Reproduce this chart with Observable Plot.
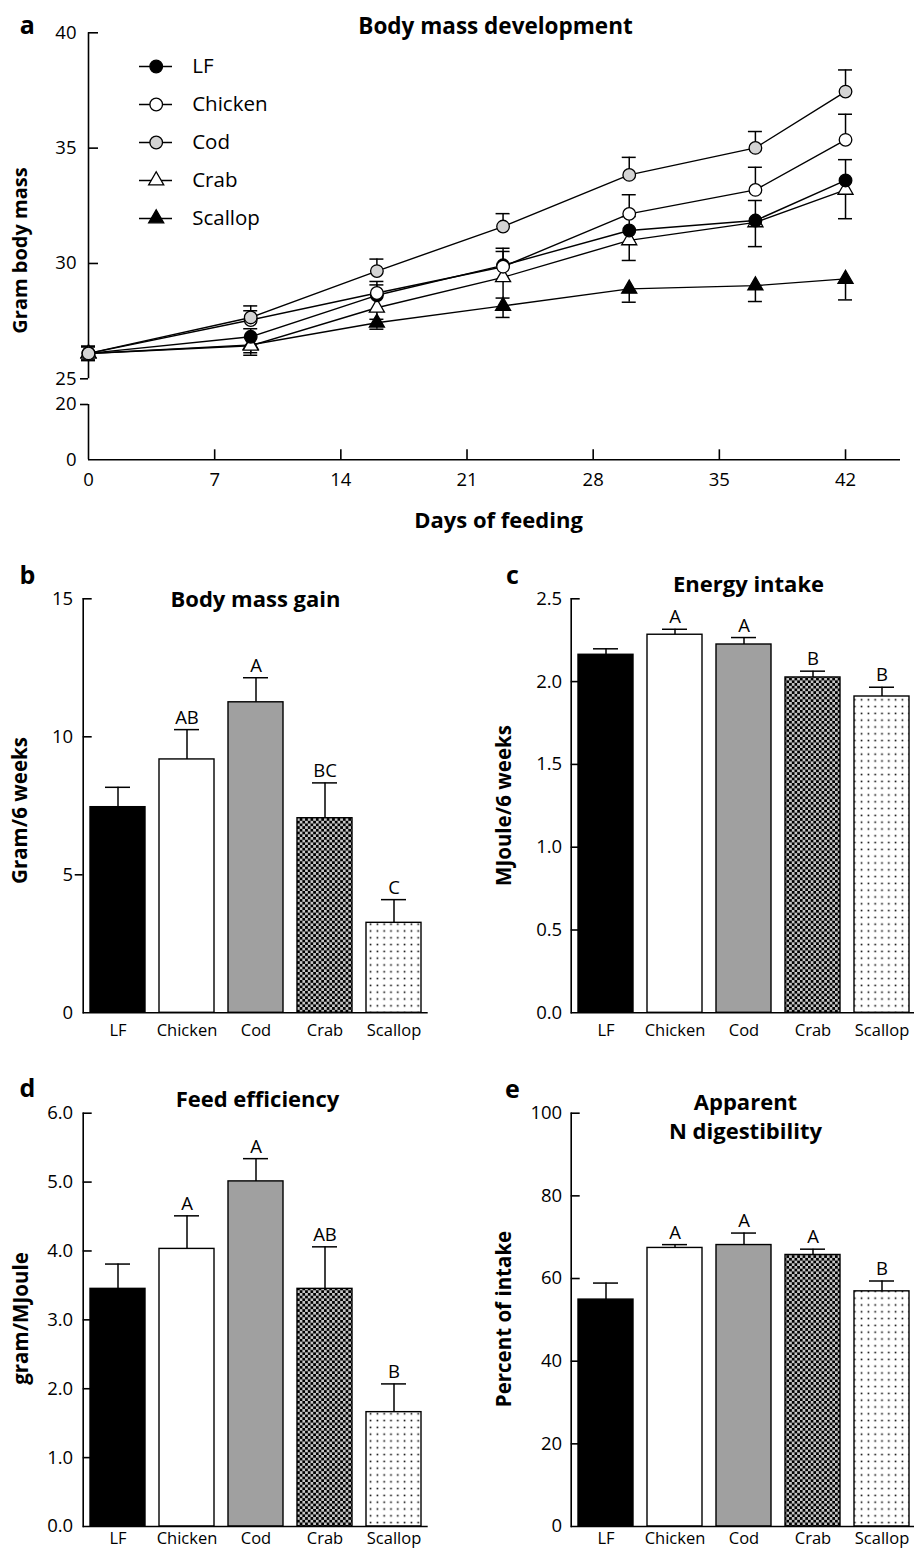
<!DOCTYPE html>
<html><head><meta charset="utf-8">
<script src="https://cdn.jsdelivr.net/npm/d3@7"></script>
<script src="https://cdn.jsdelivr.net/npm/@observablehq/plot@0.6"></script>
<style>
body{margin:0;background:#fff;}
#fig{position:relative;width:914px;height:1550px;overflow:hidden;background:#fff;color:#000;font-family:'Open Sans',sans-serif;}
</style></head><body>
<svg width="0" height="0" style="position:absolute">
<defs>
<pattern id="checker" patternUnits="userSpaceOnUse" width="5.4" height="5.4">
<rect width="5.4" height="5.4" fill="#c6c6c6"/>
<rect width="2.7" height="2.7" fill="#000"/>
<rect x="2.7" y="2.7" width="2.7" height="2.7" fill="#000"/>
</pattern>
<pattern id="dots" patternUnits="userSpaceOnUse" width="6.8" height="6.8">
<rect width="6.8" height="6.8" fill="#fff"/>
<rect x="2.6" y="2.6" width="1.6" height="1.6" fill="#000"/>
</pattern>
</defs></svg>
<div id="fig"></div>
<script>
// ---------- data ----------
const days = [0, 9, 16, 23, 30, 37, 42];
const groups = ["LF", "Chicken", "Cod", "Crab", "Scallop"];
const massLF      = [26.1, 26.82, 28.62, 29.92, 31.43, 31.86, 33.60];
const massChicken = [26.1, 27.55, 28.72, 29.86, 32.15, 33.19, 35.36];
const massCod     = [26.1, 27.66, 29.67, 31.60, 33.84, 35.01, 37.45];
const massCrab    = [26.1, 26.43, 28.08, 29.40, 31.00, 31.78, 33.19];
const massScallop = [26.1, 26.47, 27.43, 28.16, 28.90, 29.04, 29.33];
const semLF      = [0.30, 0.35, 0.45, 0.60, 0.60, 0.87, 0.90];
const semChicken = [0.30, 0.40, 0.50, 0.80, 0.83, 0.98, 1.11];
const semCod     = [0.30, 0.50, 0.52, 0.56, 0.76, 0.71, 0.94];
const semCrab    = [0.30, 0.30, 0.50, 0.90, 0.87, 1.05, 1.25];
const semScallop = [0.30, 0.45, 0.28, 0.50, 0.58, 0.69, 0.91];
const massTicks = [0, 20, 25, 30, 35, 40];
const massUpperDomain = [25, 40];
const massLowerDomain = [0, 20];
const dayTicks = [0, 7, 14, 21, 28, 35, 42];

const gain = [7.45, 9.18, 11.25, 7.05, 3.26];
const gainSem = [0.72, 1.08, 0.89, 1.28, 0.84];
const gainLetters = ["", "AB", "A", "BC", "C"];
const gainTicks = [0, 5, 10, 15];

const energy = [2.162, 2.283, 2.224, 2.025, 1.910];
const energySem = [0.036, 0.033, 0.042, 0.038, 0.056];
const energyLetters = ["", "A", "A", "B", "B"];
const energyTicks = [0, 0.5, 1.0, 1.5, 2.0, 2.5];

const efficiency = [3.45, 4.03, 5.01, 3.45, 1.66];
const efficiencySem = [0.36, 0.48, 0.33, 0.61, 0.41];
const efficiencyLetters = ["", "A", "A", "AB", "B"];
const efficiencyTicks = [0, 1, 2, 3, 4, 5, 6];

const digest = [54.9, 67.4, 68.1, 65.7, 56.9];
const digestSem = [4.0, 0.8, 2.9, 1.4, 2.5];
const digestLetters = ["", "A", "A", "A", "B"];
const digestTicks = [0, 20, 40, 60, 80, 100];

// ---------- styles ----------
const FONT = "'Open Sans', sans-serif";
const TICK_FS = 18.5;
const barFill = {LF: "#000", Chicken: "#fff", Cod: "#a0a0a0", Crab: "url(#checker)", Scallop: "url(#dots)"};
const seriesStyle = {
  LF:      {symbol: "circle",   fill: "#000",    r: 6.3, dir: 1},
  Chicken: {symbol: "circle",   fill: "#fff",    r: 6.3, dir: 1},
  Cod:     {symbol: "circle",   fill: "#d4d4d4", r: 6.3, dir: 1},
  Crab:    {symbol: "triangle", fill: "#fff",    r: 5.6, dir: -1},
  Scallop: {symbol: "triangle", fill: "#000",    r: 5.6, dir: -1}
};
const massData = {LF: [massLF, semLF], Chicken: [massChicken, semChicken], Cod: [massCod, semCod], Crab: [massCrab, semCrab], Scallop: [massScallop, semScallop]};

const fig = document.getElementById("fig");
function place(svg, left, top) {
  svg.style.position = "absolute";
  svg.style.left = left + "px";
  svg.style.top = top + "px";
  fig.appendChild(svg);
}
// text placed at svg pixel position (px, py)
function tx(str, px, py, m, o) {
  return Plot.text([str], {frameAnchor: "top-left", dx: px - m.l, dy: py - m.t, text: d => d, textAnchor: "middle", lineAnchor: "middle", ...o});
}
const AX = 1.6;
const baseStyle = {fontFamily: FONT, background: "transparent", overflow: "visible"};

// ---------- panel a (broken y axis: upper and lower parts) ----------
const W_A = 914, xMax = 45.05;
{
  // upper part: 25 - 40
  const H = 380;
  const m = {l: 88, r: 14, t: 32.3, b: H - 378.3};
  const innerW = W_A - m.l - m.r;
  const xA = d3.scaleLinear([0, xMax], [m.l, W_A - m.r]);
  const yA = d3.scaleLinear(massUpperDomain, [378.3, 32.3]);
  const capHalf = xA.invert(m.l + 7);
  const inDom = v => v >= massUpperDomain[0] && v <= massUpperDomain[1];
  const marks = [];
  marks.push(Plot.ruleX([massUpperDomain], {x: 0, y1: d => d[0], y2: d => d[1], strokeWidth: AX}));
  marks.push(Plot.ruleY(massTicks.filter(v => inDom(v) && v > massUpperDomain[0]), {insetRight: innerW - 10, strokeWidth: AX}));
  marks.push(Plot.ruleY([massUpperDomain[0]], {insetLeft: -8, insetRight: innerW, strokeWidth: AX}));
  marks.push(Plot.text(massTicks.filter(inDom), {x: 0, y: d => d, dx: -12, textAnchor: "end", fontSize: TICK_FS}));
  const rowsOf = g => days.map((d, i) => ({day: d, m: massData[g][0][i], e: massData[g][1][i]}));
  groups.forEach(g => marks.push(Plot.line(rowsOf(g), {x: "day", y: "m", stroke: "#000", strokeWidth: 1.4})));
  groups.forEach(g => {
    const dir = seriesStyle[g].dir;
    const ends = [];
    rowsOf(g).forEach(r => {
      ends.push({day: r.day, m: r.m, y2: r.m + dir * r.e});
      if (r.day === 0) ends.push({day: r.day, m: r.m, y2: r.m - dir * r.e});
    });
    marks.push(Plot.ruleX(ends, {x: "day", y1: "m", y2: "y2", strokeWidth: 1.5}));
    marks.push(Plot.ruleY(ends, {y: "y2", x1: d => d.day - capHalf, x2: d => d.day + capHalf, strokeWidth: 1.5}));
  });
  ["Scallop", "Crab", "LF", "Chicken", "Cod"].forEach(g => {
    const s = seriesStyle[g];
    marks.push(Plot.dot(rowsOf(g), {x: "day", y: "m", symbol: s.symbol, r: s.r, fill: s.fill, stroke: "#000", strokeWidth: 1.3}));
  });
  // legend
  groups.forEach((g, i) => {
    const s = seriesStyle[g];
    const yv = yA.invert(66 + i * 38);
    marks.push(Plot.ruleY([yv], {x1: xA.invert(139), x2: xA.invert(172), strokeWidth: 1.4}));
    marks.push(Plot.dot([yv], {x: xA.invert(155.7), y: d => d, symbol: s.symbol, r: s.r, fill: s.fill, stroke: "#000", strokeWidth: 1.3}));
    marks.push(Plot.text([g], {x: xA.invert(191.7), y: yv, text: d => d, textAnchor: "start", fontSize: 20.5}));
  });
  marks.push(tx("a", 26.7, 33, m, {fontSize: 25, fontWeight: "bold", lineAnchor: "bottom"}));
  marks.push(tx("Body mass development", 495, 33, m, {fontSize: 22.5, fontWeight: "bold", lineAnchor: "bottom"}));
  marks.push(tx("Gram body mass", 20, 250, m, {fontSize: 20, fontWeight: "bold", rotate: -90}));
  const svg = Plot.plot({
    width: W_A, height: H, marginLeft: m.l, marginRight: m.r, marginTop: m.t, marginBottom: m.b,
    style: baseStyle,
    x: {domain: [0, xMax], axis: null},
    y: {domain: massUpperDomain, axis: null},
    marks
  });
  place(svg, 0, 0);
}
{
  // lower part: 0 - 20, with x axis
  const top = 380, H = 160;
  const m = {l: 88, r: 14, t: 404 - top, b: H - (459.3 - top)};
  const innerW = W_A - m.l - m.r, innerH = H - m.t - m.b;
  const inDom = v => v >= massLowerDomain[0] && v <= massLowerDomain[1];
  const marks = [];
  marks.push(Plot.ruleX([massLowerDomain], {x: 0, y1: d => d[0], y2: d => d[1], strokeWidth: AX}));
  marks.push(Plot.ruleY([0], {strokeWidth: AX}));
  marks.push(Plot.ruleY([massLowerDomain[1]], {insetLeft: -8, insetRight: innerW, strokeWidth: AX}));
  marks.push(Plot.ruleX(dayTicks.filter(d => d > 0), {insetTop: innerH - 10, strokeWidth: AX}));
  marks.push(Plot.text(massTicks.filter(inDom), {x: 0, y: d => d, dx: -12, textAnchor: "end", fontSize: TICK_FS}));
  marks.push(Plot.text(dayTicks, {x: d => d, y: 0, dy: 20, fontSize: TICK_FS}));
  marks.push(tx("Days of feeding", 498, 527 - top, m, {fontSize: 22, fontWeight: "bold", lineAnchor: "bottom"}));
  const svg = Plot.plot({
    width: W_A, height: H, marginLeft: m.l, marginRight: m.r, marginTop: m.t, marginBottom: m.b,
    style: baseStyle,
    x: {domain: [0, xMax], axis: null},
    y: {domain: massLowerDomain, axis: null},
    marks
  });
  place(svg, 0, top);
}

// ---------- bar panels ----------
function barPanel(cfg) {
  const {m, w, h} = cfg;
  const innerW = w - m.l - m.r;
  const rows = groups.map((g, i) => ({g, v: cfg.vals[i], e: cfg.sems[i], t: cfg.letters[i]}));
  const marks = [];
  groups.forEach(g => marks.push(Plot.barY(rows.filter(r => r.g === g), {x: "g", y: "v", fill: barFill[g], stroke: "#000", strokeWidth: 1.4})));
  marks.push(Plot.ruleX(rows, {x: "g", y1: "v", y2: d => d.v + d.e, strokeWidth: 1.5}));
  marks.push(Plot.tickY(rows, {x: "g", y: d => d.v + d.e, insetLeft: 15, insetRight: 15, strokeWidth: 1.5}));
  marks.push(Plot.text(rows, {x: "g", y: d => d.v + d.e, text: "t", dy: -6, lineAnchor: "bottom", fontSize: 18.5}));
  marks.push(Plot.frame({anchor: "left", strokeWidth: AX}));
  marks.push(Plot.ruleY([0], {strokeWidth: AX}));
  marks.push(Plot.ruleY(cfg.ticksIn, {insetRight: innerW - 9, strokeWidth: AX}));
  marks.push(Plot.ruleY(cfg.ticksOut, {insetLeft: -8, insetRight: innerW, strokeWidth: AX}));
  marks.push(Plot.text(cfg.ticks, {y: d => d, frameAnchor: "left", dx: -cfg.tickPad, textAnchor: "end", text: cfg.fmt, fontSize: TICK_FS}));
  marks.push(Plot.text(groups, {x: d => d, y: 0, dy: cfg.xLabDy, text: d => d, fontSize: 16.5}));
  marks.push(tx(cfg.letter, cfg.letterPos[0], cfg.letterPos[1], m, {fontSize: 25, fontWeight: "bold", lineAnchor: "bottom"}));
  cfg.title.forEach((t, i) => marks.push(tx(t, cfg.titlePos[0], cfg.titlePos[1] + i * 29, m, {fontSize: 22, fontWeight: "bold", lineAnchor: "bottom"})));
  marks.push(tx(cfg.yLabel, cfg.yLabelPos[0], cfg.yLabelPos[1], m, {fontSize: 20.5, fontWeight: "bold", rotate: -90}));
  const svg = Plot.plot({
    width: w, height: h, marginLeft: m.l, marginRight: m.r, marginTop: m.t, marginBottom: m.b,
    style: baseStyle,
    x: {type: "band", domain: groups, paddingInner: 0.2, paddingOuter: 0.1, axis: null},
    y: {domain: [0, cfg.ticks[cfg.ticks.length - 1]], axis: null},
    marks
  });
  place(svg, cfg.left, cfg.top);
}
const mLeft1 = {l: 82.7, r: 29.3, t: 58.3, b: 37.7};
const mRight1 = {l: 113.7, r: 1.1, t: 58.3, b: 37.7};
const mLeft2 = {l: 82.7, r: 29.3, t: 62.7, b: 24};
const mRight2 = {l: 113.7, r: 1.1, t: 62.7, b: 24};

barPanel({left: 0, top: 540, w: 457, h: 510, m: mLeft1,
  vals: gain, sems: gainSem, letters: gainLetters, ticks: gainTicks, ticksIn: [10, 15], ticksOut: [5],
  fmt: d => String(d), tickPad: 10, xLabDy: 17.7,
  letter: "b", letterPos: [27, 43], title: ["Body mass gain"], titlePos: [255, 66.7],
  yLabel: "Gram/6 weeks", yLabelPos: [20, 270]});
barPanel({left: 457, top: 540, w: 460, h: 510, m: mRight1,
  vals: energy, sems: energySem, letters: energyLetters, ticks: energyTicks, ticksIn: [0.5, 1, 1.5, 2, 2.5], ticksOut: [],
  fmt: d3.format(".1f"), tickPad: 9, xLabDy: 17.7,
  letter: "c", letterPos: [55, 43], title: ["Energy intake"], titlePos: [291, 51.7],
  yLabel: "MJoule/6 weeks", yLabelPos: [46.5, 265]});
barPanel({left: 0, top: 1050, w: 457, h: 500, m: mLeft2,
  vals: efficiency, sems: efficiencySem, letters: efficiencyLetters, ticks: efficiencyTicks, ticksIn: [1, 2, 3, 4, 5, 6], ticksOut: [],
  fmt: d3.format(".1f"), tickPad: 10, xLabDy: 12.5,
  letter: "d", letterPos: [27, 46.7], title: ["Feed efficiency"], titlePos: [257, 56.7],
  yLabel: "gram/MJoule", yLabelPos: [21, 268]});
barPanel({left: 457, top: 1050, w: 460, h: 500, m: mRight2,
  vals: digest, sems: digestSem, letters: digestLetters, ticks: digestTicks, ticksIn: [20, 40, 60, 80, 100], ticksOut: [],
  fmt: d => String(d), tickPad: 9, xLabDy: 12.5,
  letter: "e", letterPos: [55, 47], title: ["Apparent", "N digestibility"], titlePos: [288, 59.3],
  yLabel: "Percent of intake", yLabelPos: [46.5, 268.5]});
</script>
</body></html>
